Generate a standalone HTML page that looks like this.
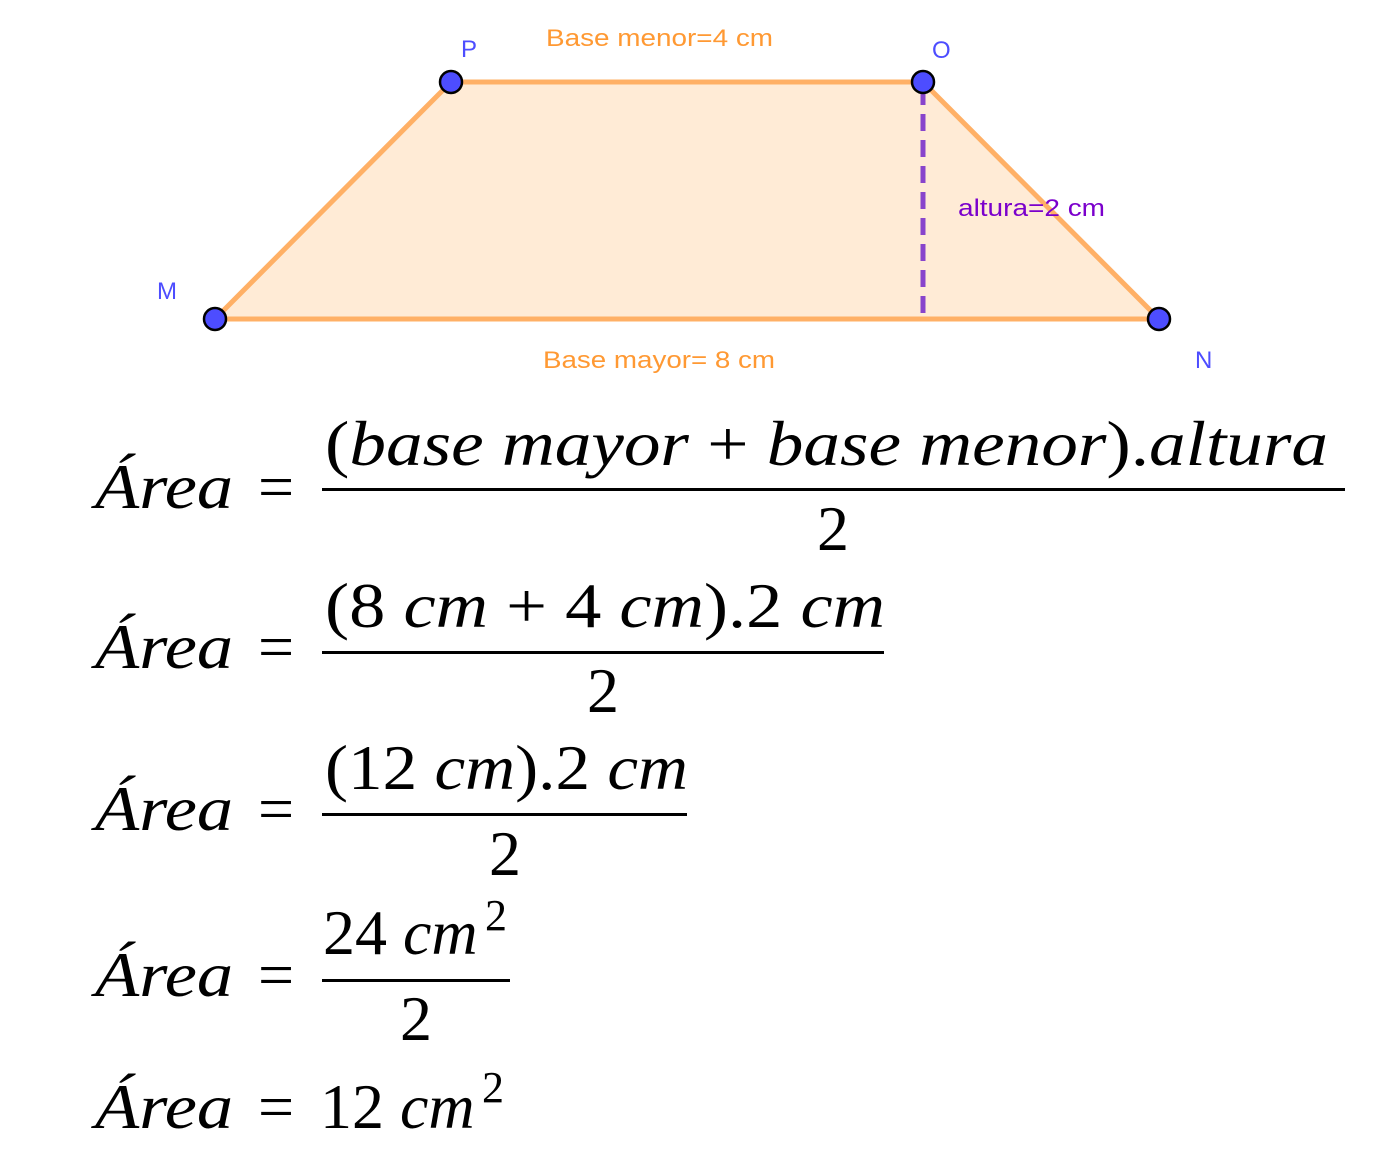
<!DOCTYPE html>
<html><head><meta charset="utf-8"><style>
html,body{margin:0;padding:0;background:#fff;}
svg{display:block;}
.lbl{font-family:"Liberation Sans",sans-serif;font-size:24px;}
.m{font-family:"Liberation Serif",serif;font-size:64px;fill:#000;}
.i{font-style:italic;}
</style></head><body>
<svg width="1374" height="1150" viewBox="0 0 1374 1150" xmlns="http://www.w3.org/2000/svg">
<polygon points="215,319 451,82 923,82 1159,319" fill="#FFEBD6" stroke="#FFB066" stroke-width="5" stroke-linejoin="round"/>
<line x1="923" y1="88" x2="923" y2="319" stroke="#8844CC" stroke-width="5" stroke-dasharray="17,9"/>
<g fill="#4D4DFF" stroke="#000" stroke-width="2.5">
<circle cx="451" cy="82" r="11"/><circle cx="923" cy="82" r="11"/>
<circle cx="215" cy="319" r="11"/><circle cx="1159" cy="319" r="11"/>
</g>
<g class="lbl" fill="#4D4DFF">
<text x="461" y="57">P</text><text x="932" y="58">O</text>
<text x="157" y="299">M</text><text x="1195" y="368">N</text>
</g>
<text class="lbl" x="546" y="46" fill="#FF9933" textLength="227" lengthAdjust="spacingAndGlyphs">Base menor=4 cm</text>
<text class="lbl" x="543" y="368" fill="#FF9933" textLength="232" lengthAdjust="spacingAndGlyphs">Base mayor= 8 cm</text>
<text class="lbl" x="958" y="216" fill="#7B00CC" textLength="147" lengthAdjust="spacingAndGlyphs">altura=2 cm</text>

<g class="m">
<text class="i" x="95" y="508" textLength="138" lengthAdjust="spacingAndGlyphs">Área</text>
<text x="258" y="508">=</text>
<text x="325" y="465" textLength="1003" lengthAdjust="spacingAndGlyphs">(<tspan class="i">base mayor</tspan>  +  <tspan class="i">base menor</tspan>).<tspan class="i">altura</tspan></text>
<rect x="322" y="488" width="1023" height="3"/>
<text x="817" y="550">2</text>

<text class="i" x="95" y="668" textLength="138" lengthAdjust="spacingAndGlyphs">Área</text>
<text x="258" y="668">=</text>
<text x="325" y="627" textLength="560" lengthAdjust="spacingAndGlyphs">(8 <tspan class="i">cm</tspan>  + 4 <tspan class="i">cm</tspan>).2 <tspan class="i">cm</tspan></text>
<rect x="322" y="651" width="562" height="3"/>
<text x="587" y="712">2</text>

<text class="i" x="95" y="830" textLength="138" lengthAdjust="spacingAndGlyphs">Área</text>
<text x="258" y="830">=</text>
<text x="325" y="789" textLength="363" lengthAdjust="spacingAndGlyphs">(12 <tspan class="i">cm</tspan>).2 <tspan class="i">cm</tspan></text>
<rect x="322" y="813" width="365" height="3"/>
<text x="489" y="875">2</text>

<text class="i" x="95" y="996" textLength="138" lengthAdjust="spacingAndGlyphs">Área</text>
<text x="258" y="996">=</text>
<text x="323" y="954">24 <tspan class="i">cm</tspan></text>
<text x="485" y="930" style="font-size:44px">2</text>
<rect x="322" y="979" width="188" height="3"/>
<text x="400" y="1040">2</text>

<text class="i" x="95" y="1128" textLength="138" lengthAdjust="spacingAndGlyphs">Área</text>
<text x="258" y="1128">=</text>
<text x="320" y="1128">12 <tspan class="i">cm</tspan></text>
<text x="482" y="1102" style="font-size:44px">2</text>
</g>
</svg>
</body></html>
